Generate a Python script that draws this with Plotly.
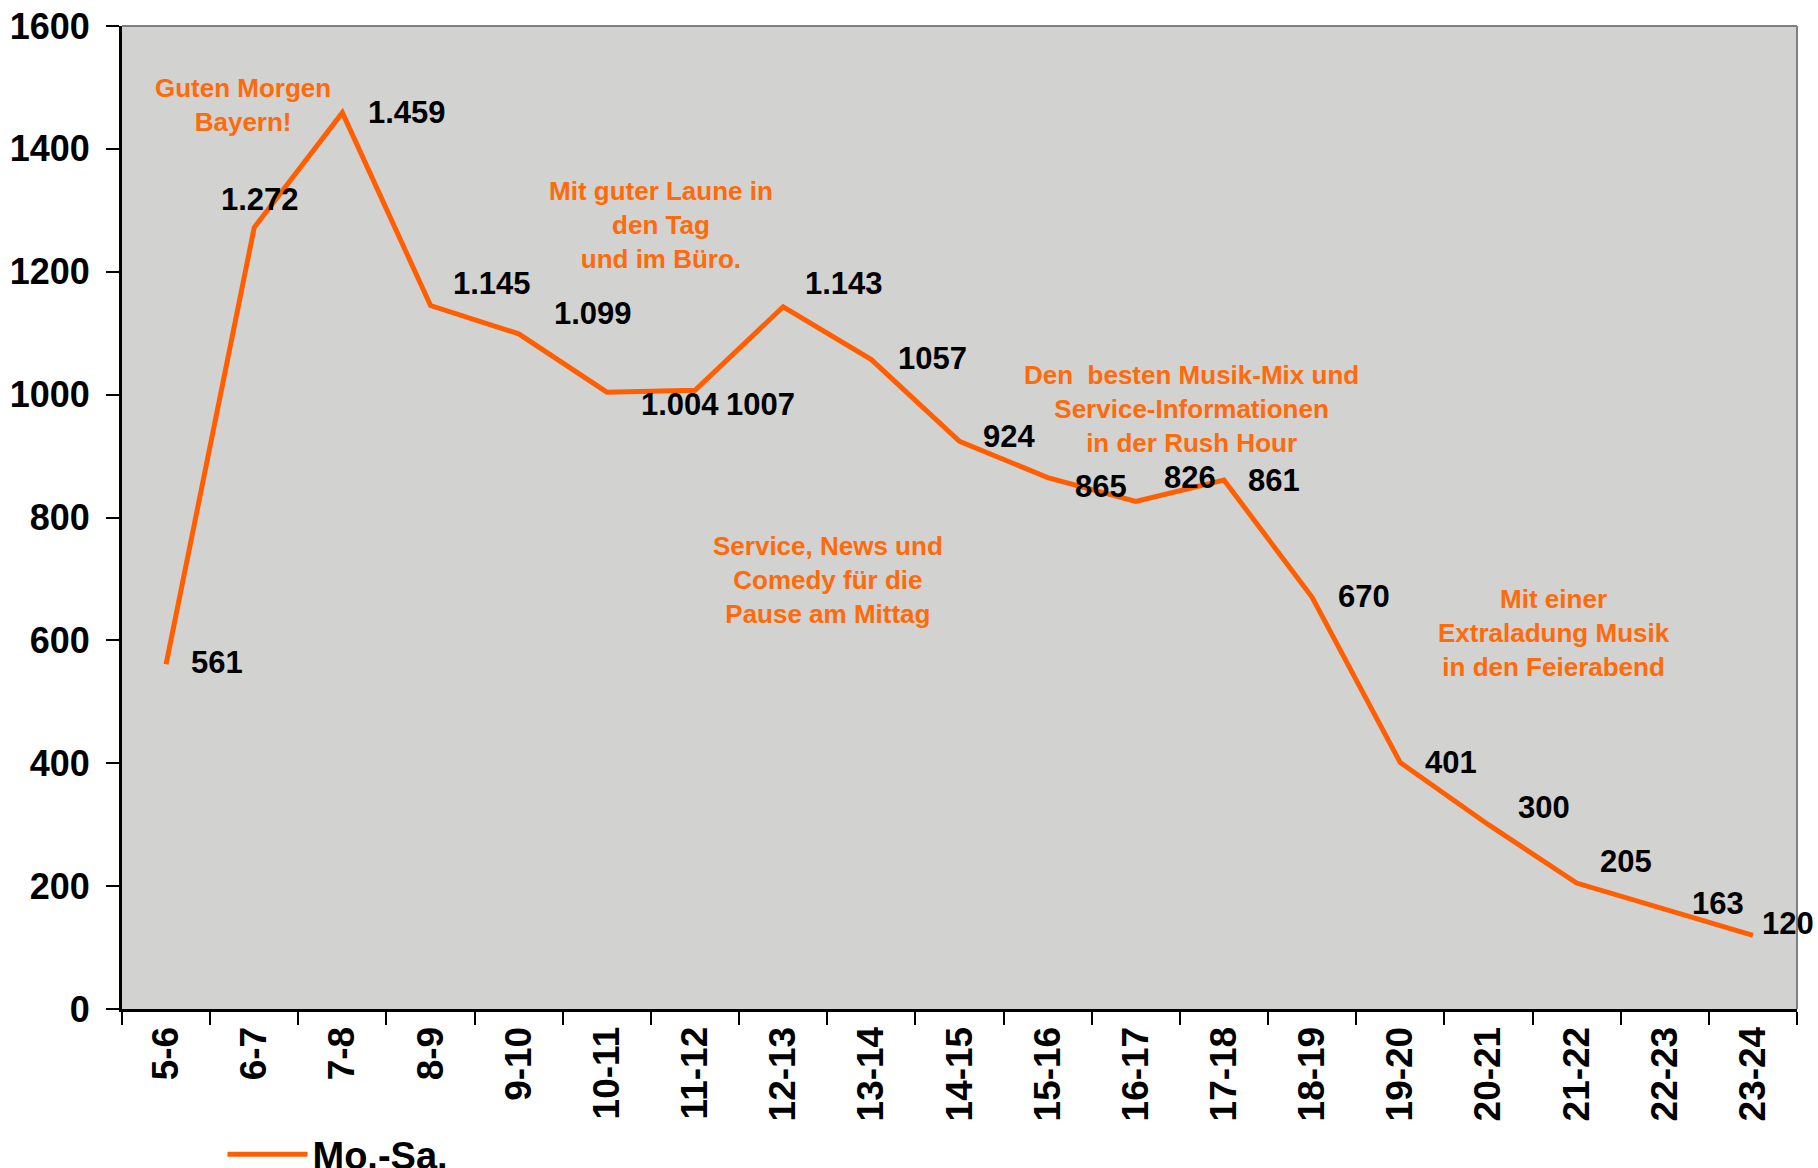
import plotly.graph_objects as go

categories = ["5-6", "6-7", "7-8", "8-9", "9-10", "10-11", "11-12", "12-13", "13-14",
              "14-15", "15-16", "16-17", "17-18", "18-19", "19-20", "20-21", "21-22",
              "22-23", "23-24"]
values = [561, 1272, 1459, 1145, 1099, 1004, 1007, 1143, 1057, 924, 865, 826, 861,
          670, 401, 300, 205, 163, 120]
value_labels = ["561", "1.272", "1.459", "1.145", "1.099", "1.004", "1007", "1.143", "1057",
                "924", "865", "826", "861", "670", "401", "300", "205", "163", "120"]
series_name = "Mo.-Sa."
y_ticks = [0, 200, 400, 600, 800, 1000, 1200, 1400, 1600]

# label offsets (px) relative to each data point
label_dx = [51, 6, 65, 61, 74, 73, 65, 61, 61, 49, 53, 54, 50, 52, 51, 56, 49, 53, 35]
label_dy = [2, 28, 0, 22, 20, -12, -14, 23, 1, 5, -9, 24, 0, 1, 0, 17, 22, 5, 12]

notes = [
    ("Guten Morgen<br>Bayern!", 0.872, 1471),
    ("Mit guter Laune in<br>den Tag<br>und im Büro.", 5.614, 1276),
    ("Service, News und<br>Comedy für die<br>Pause am Mittag", 7.508, 698),
    ("Den\u00a0 besten Musik-Mix und<br>Service-Informationen<br>in der Rush Hour", 11.626, 977),
    ("Mit einer<br>Extraladung Musik<br>in den Feierabend", 15.743, 612),
]

FONT = "Liberation Sans, Arial, sans-serif"
ORANGE_LINE = "#FF5F00"
ORANGE_TEXT = "#FF6A0A"

fig = go.Figure()
fig.add_trace(go.Scatter(
    x=categories, y=values, mode="lines", name=series_name,
    line=dict(color=ORANGE_LINE, width=5),
))

annotations = []
for c, v, t, dx, dy in zip(categories, values, value_labels, label_dx, label_dy):
    annotations.append(dict(
        x=c, y=v, text=t, showarrow=False, xshift=dx, yshift=dy,
        font=dict(family=FONT, size=31, color="black", weight=700),
    ))
for t, x, y in notes:
    annotations.append(dict(
        x=x, y=y, xref="x", yref="y", text=t, showarrow=False,
        font=dict(family=FONT, size=26, color=ORANGE_TEXT, weight=700),
        align="center",
    ))

fig.update_layout(
    width=1818, height=1168,
    margin=dict(l=122, r=21, t=26, b=159, autoexpand=False),
    paper_bgcolor="white",
    plot_bgcolor="#D2D2D0",
    font=dict(family=FONT, color="black"),
    annotations=annotations,
    showlegend=True,
    legend=dict(
        orientation="h", x=0.06, y=-0.148, xanchor="left", yanchor="middle",
        font=dict(family=FONT, size=38, color="black", weight=700),
        bgcolor="rgba(0,0,0,0)", itemwidth=80,
    ),
    shapes=[
        dict(type="line", xref="paper", yref="paper", x0=0, x1=1, y0=1, y1=1,
             line=dict(color="#808080", width=2)),
        dict(type="line", xref="paper", yref="paper", x0=1, x1=1, y0=0, y1=1,
             line=dict(color="#808080", width=2)),
    ],
)

fig.update_xaxes(
    type="category", range=[-0.5, len(categories) - 0.5], tickson="boundaries",
    ticks="outside", ticklen=13, tickwidth=2, automargin=False,
    tickcolor="black", showline=True, linecolor="black", linewidth=3,
    showgrid=False, tickangle=-90, zeroline=False,
    tickfont=dict(family=FONT, size=37, color="black", weight=700),
)
fig.update_yaxes(
    range=[0, 1600], tickvals=y_ticks, ticks="outside", ticklen=13, tickwidth=2,
    tickcolor="black", showline=True, linecolor="black", linewidth=3,
    showgrid=False, zeroline=False, automargin=False, ticklabelstandoff=9,
    tickfont=dict(family=FONT, size=36, color="black", weight=700),
)

fig.write_html(
    "out.html",
    config={"displayModeBar": False},
    post_script="document.body.style.margin='0';document.body.style.overflow='hidden';",
)
